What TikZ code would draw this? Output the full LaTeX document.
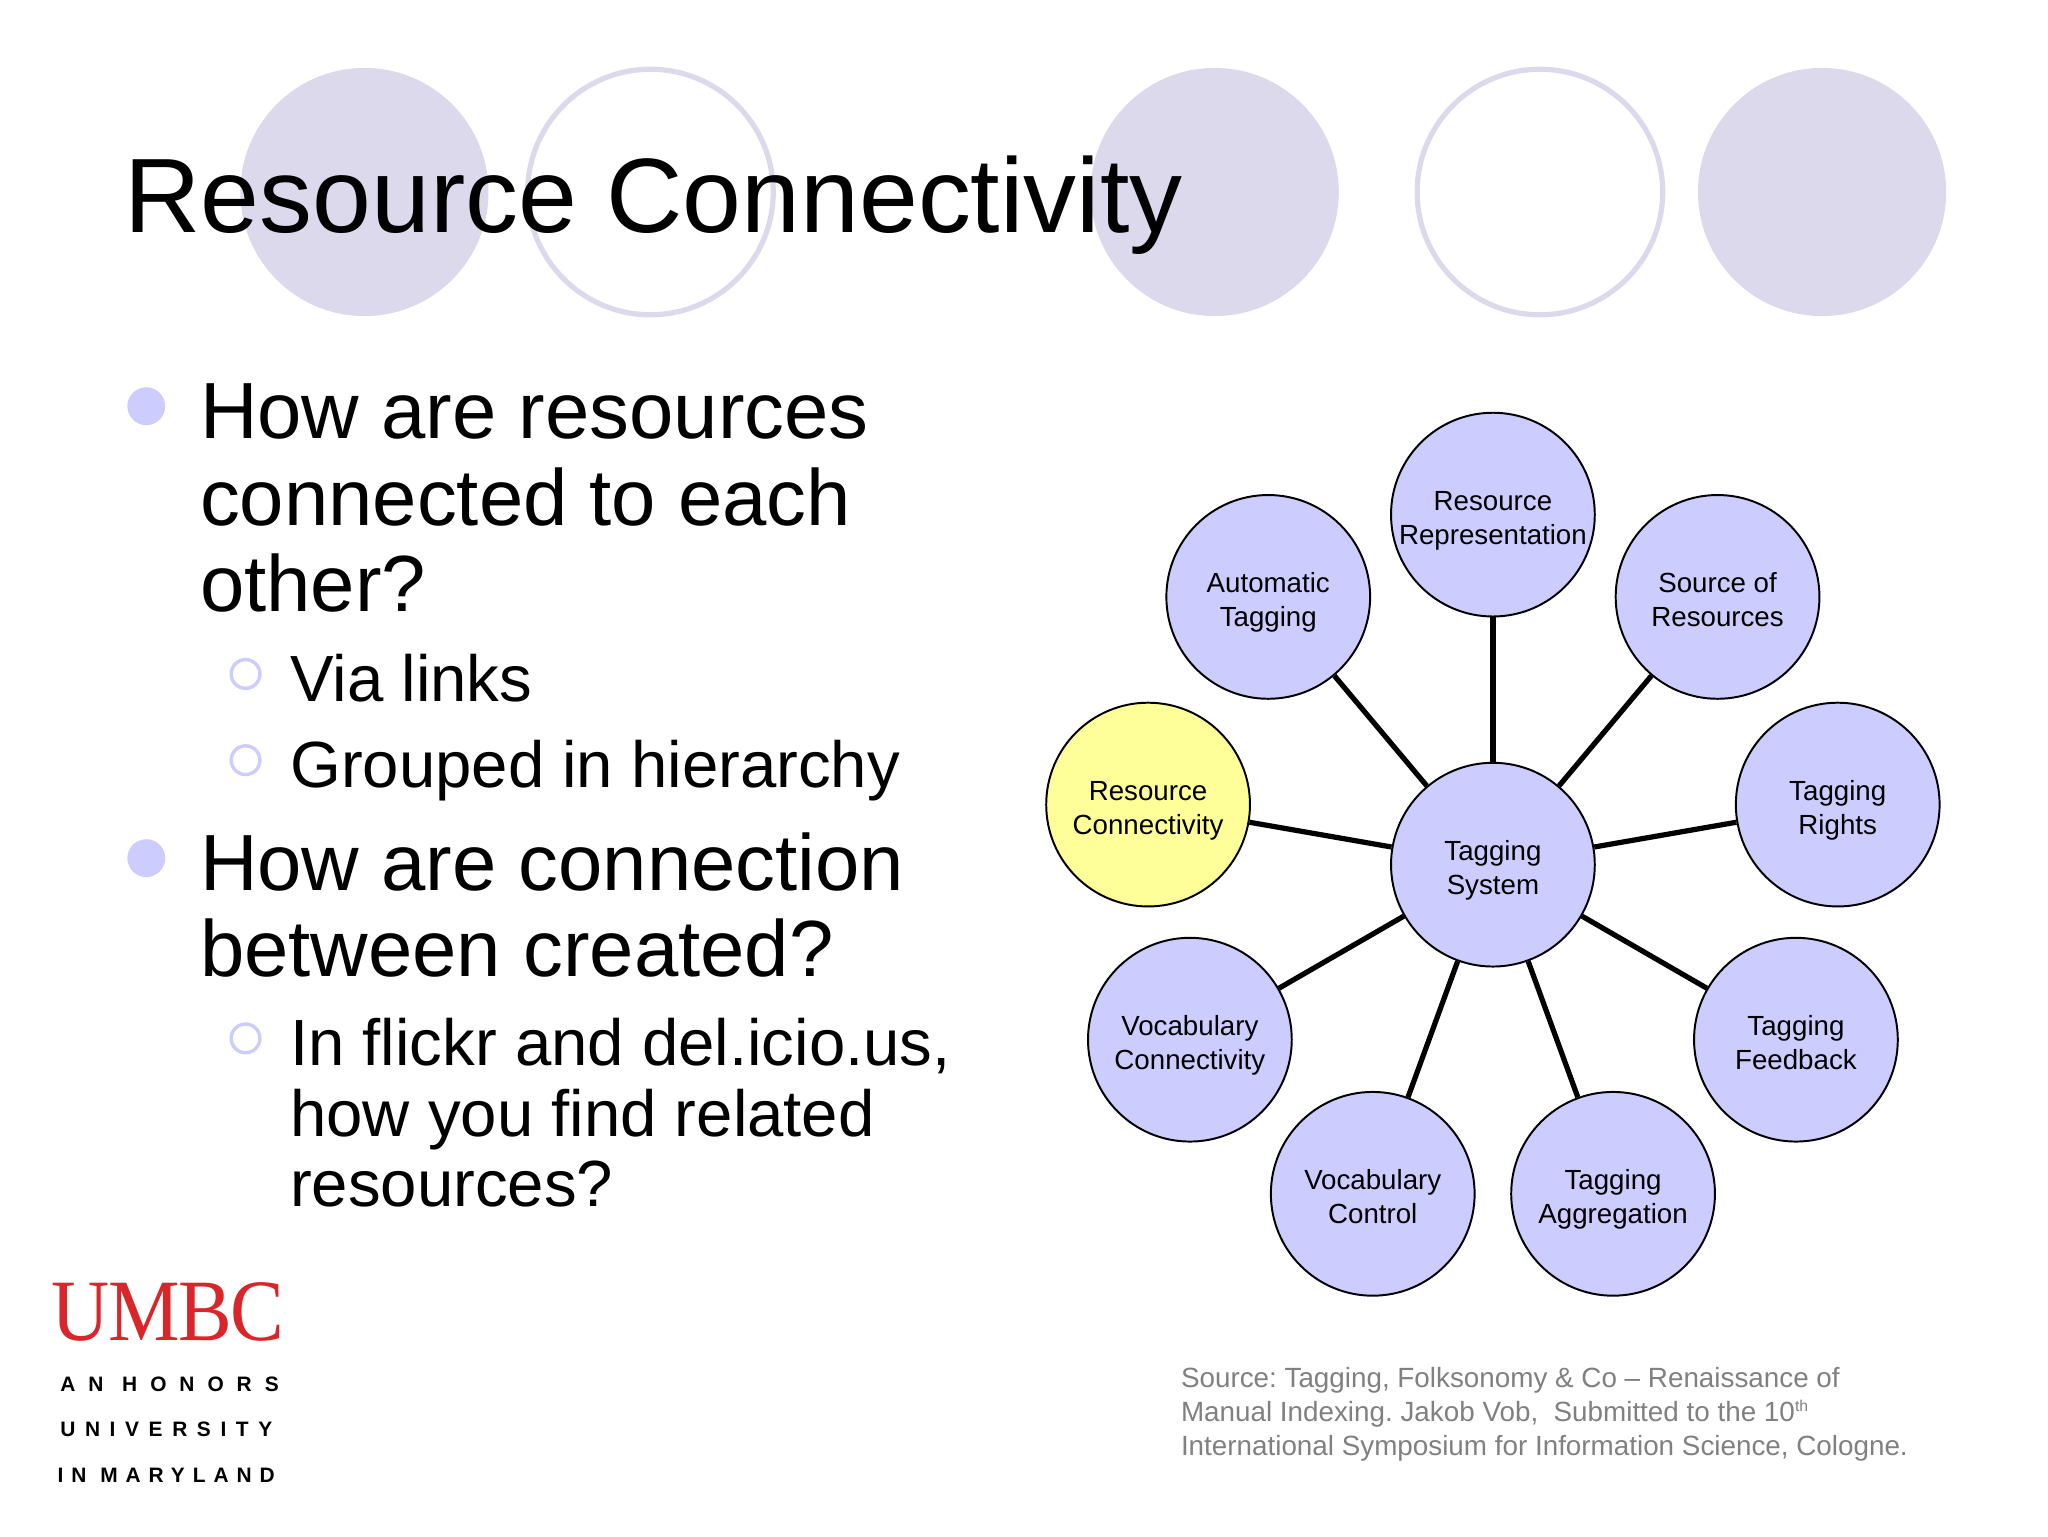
\documentclass[tikz,border=0pt]{standalone}
\usepackage{fontspec}
\setmainfont{Liberation Sans}
\newfontfamily\logofont[FakeStretch=0.92]{Liberation Serif}
\definecolor{topdisc}{HTML}{DBD9EB}
\definecolor{bulletblue}{HTML}{CCCCFF}
\definecolor{nodeblue}{HTML}{CCCCFF}
\definecolor{nodeyellow}{HTML}{FFFF99}
\definecolor{umbcred}{HTML}{D8262B}
\newcommand{\twolines}[2]{\rule{0pt}{25pt}#1\\#2\rule[-5pt]{0pt}{5pt}}
\tikzset{
	topring/.style={circle,draw=topdisc,line width=4pt,minimum size=188pt,inner sep=0pt},
	topfull/.style={circle,fill=topdisc,minimum size=190pt,inner sep=0pt},
	bigdot/.style={circle,fill=bulletblue,minimum size=29pt,inner sep=0pt},
	smalldot/.style={circle,draw=bulletblue,line width=2.6pt,minimum size=22pt,inner sep=0pt},
	bigtext/.style={anchor=base west,inner sep=0pt,font=\fontsize{61}{66}\selectfont,align=left},
	subtext/.style={anchor=base west,inner sep=0pt,font=\fontsize{50}{54}\selectfont,align=left},
	topic/.style={circle,draw=black,line width=1.5pt,fill=nodeblue,minimum size=156pt,inner sep=0pt,font=\fontsize{21.2}{26}\selectfont,align=center},
	spoke/.style={draw=black,line width=4pt},
	taglinetext/.style={anchor=base west,inner sep=0pt,font=\fontsize{16}{18}\selectfont\bfseries},
}
\begin{document}
\begin{tikzpicture}[x=1pt,y=-1pt]
	\useasboundingbox (0,0) rectangle (1568,1176);
	% discs along the top
	\node[topfull] (disca) at (279,147) {};
	\node[topring] (ringa) at (498,147) {};
	\node[topfull] (discb) at (930,147) {};
	\node[topring] (ringb) at (1179,147) {};
	\node[topfull] (discc) at (1395,147) {};
	\node[anchor=base west,inner sep=0pt,font=\fontsize{81}{90}\selectfont] (title) at (95,178) {Resource Connectivity};
	% bullets
	\node[bigdot] (dota) at (112,311) {};
	\node[bigtext] (texta) at (153,468) {How are resources\\connected to each\\other?};
	\node[smalldot] (dotb) at (188,516) {};
	\node[subtext] (textb) at (222,537) {Via links};
	\node[smalldot] (dotc) at (188,582) {};
	\node[subtext] (textc) at (222,603) {Grouped in hierarchy};
	\node[bigdot] (dotd) at (112,657) {};
	\node[bigtext] (textd) at (153,748) {How are connection\\between created?};
	\node[smalldot] (dote) at (188,795) {};
	\node[subtext] (texte) at (222,924) {In flickr and del.icio.us,\\how you find related\\resources?};
	% topics
	\node[topic] (system) at (1143,662) {\twolines{Tagging}{System}};
	\node[topic] (representation) at (1143,394) {\twolines{Resource}{Representation}};
	\node[topic] (automatic) at (971,457) {\twolines{Automatic}{Tagging}};
	\node[topic] (source) at (1315,457) {\twolines{Source of}{Resources}};
	\node[topic,fill=nodeyellow] (connectivity) at (879,616) {\twolines{Resource}{Connectivity}};
	\node[topic] (rights) at (1407,616) {\twolines{Tagging}{Rights}};
	\node[topic] (vocabconn) at (911,796) {\twolines{Vocabulary}{Connectivity}};
	\node[topic] (feedback) at (1375,796) {\twolines{Tagging}{Feedback}};
	\node[topic] (control) at (1051,914) {\twolines{Vocabulary}{Control}};
	\node[topic] (aggregation) at (1235,914) {\twolines{Tagging}{Aggregation}};
	\foreach \t in {representation,automatic,source,connectivity,rights,vocabconn,feedback,control,aggregation}
		{\draw[spoke] (system) -- (\t);}
	% source note
	\node[anchor=base west,inner sep=0pt,text=gray,font=\fontsize{21.3}{26}\selectfont\frenchspacing,align=left] (note) at (904,1114)
		{Source: Tagging, Folksonomy \& Co -- Renaissance of\\Manual Indexing. Jakob Vob,~ Submitted to the 10\raisebox{7pt}{\fontsize{12}{12}\selectfont th}\\International Symposium for Information Science, Cologne.};
	% logo
	\node[anchor=base west,inner sep=0pt,text=umbcred,font=\fontsize{67}{70}\logofont\addfontfeature{LetterSpace=-1.5}] (umbc) at (39,1026) {UMBC};
	\node[taglinetext] (honors) at (46,1065) {\addfontfeature{LetterSpace=62}AN HONORS};
	\node[taglinetext] (university) at (46,1100) {\addfontfeature{LetterSpace=46}UNIVERSITY};
	\node[taglinetext] (maryland) at (44,1135) {\addfontfeature{LetterSpace=38}IN MARYLAND};
\end{tikzpicture}
\end{document}
